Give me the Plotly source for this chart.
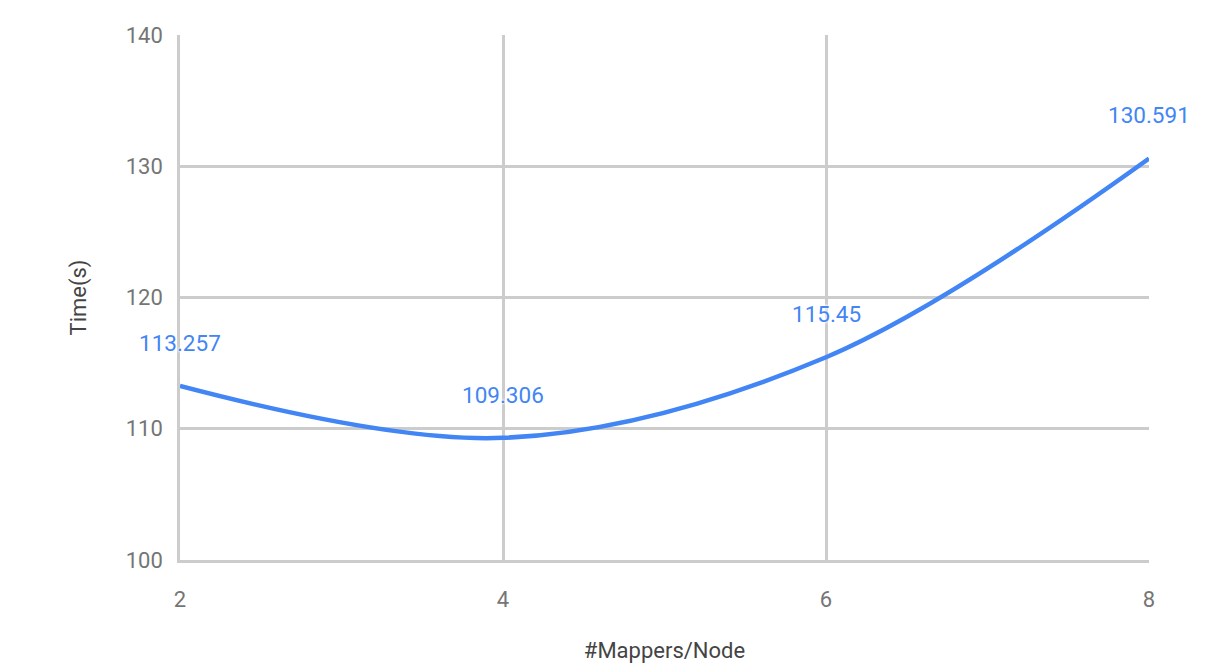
import plotly.graph_objects as go

# Job runtime for each mapper count per node
mappers = [2, 4, 6, 8]
times = [113.257, 109.306, 115.45, 130.591]
labels = ["113.257", "109.306", "115.45", "130.591"]

BLUE = "#4285F4"
GRID = "#cccccc"
TICK = "#757575"
TITLE = "#444444"
FONT = "Roboto, Arial, sans-serif"

fig = go.Figure()
fig.add_trace(go.Scatter(
    x=mappers, y=times, mode="lines",
    line=dict(color=BLUE, width=4.5, shape="spline", smoothing=1.0),
    hoverinfo="x+y", showlegend=False,
))

# Value labels above each point, haloed in white so gridlines are masked
for xv, yv, txt in zip(mappers, times, labels):
    fig.add_annotation(
        x=xv, y=yv, text=txt, showarrow=False, yshift=43,
        xanchor="center", yanchor="middle",
        font=dict(family=FONT, size=22.5, color=BLUE,
                  shadow="0 0 3px #fff, 0 0 3px #fff, 0 0 3px #fff"),
    )

fig.update_layout(
    width=1224, height=663,
    margin=dict(l=180, r=75, t=35, b=103),
    paper_bgcolor="white", plot_bgcolor="white",
    font=dict(family=FONT, size=22, color=TICK),
    xaxis=dict(
        range=[2, 8], tickvals=[2, 4, 6, 8], ticks="",
        showgrid=True, gridcolor=GRID, gridwidth=2.5,
        showline=True, linecolor=GRID, linewidth=2.5, mirror=False,
        zeroline=False, ticklabelstandoff=18,
        title=dict(text="#Mappers/Node", standoff=38,
                   font=dict(family=FONT, size=22, color=TITLE)),
        automargin=False,
    ),
    yaxis=dict(
        range=[100, 140], dtick=10, ticks="",
        showgrid=True, gridcolor=GRID, gridwidth=2.5,
        showline=True, linecolor=GRID, linewidth=2.5,
        zeroline=False, ticklabelstandoff=10,
        title=dict(text="Time(s)", standoff=34,
                   font=dict(family=FONT, size=22, color=TITLE)),
        automargin=False,
    ),
)

fig.write_html("out.html")
